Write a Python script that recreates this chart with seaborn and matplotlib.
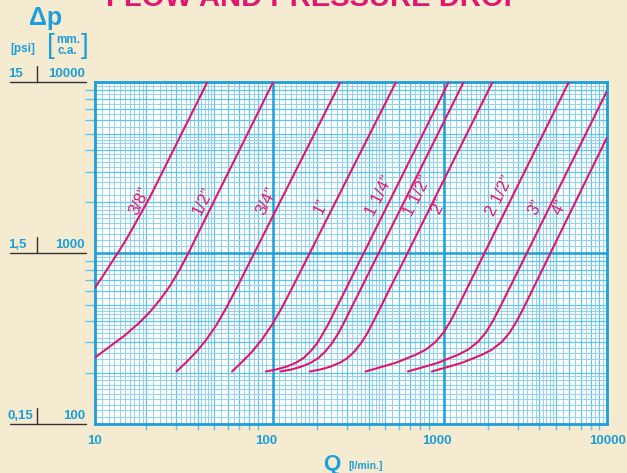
import numpy as np
import pandas as pd
import seaborn as sns
import matplotlib.pyplot as plt

# Flow (l/min) vs pressure drop (mm c.a.) for each pipe size
sizes = ['3/8\u201d', '1/2\u201d', '3/4\u201d', '1\u201d', '1 1/4\u201d',
         '1 1/2\u201d', '2\u201d', '2 1/2\u201d', '3\u201d', '4\u201d']

q_38 = [10, 11.0, 12.2, 13.6, 15.2, 17.1, 21.0, 45.4]
dp_38 = [629, 722, 849, 1004, 1196, 1474, 2134, 10000]
q_12 = [10, 12.2, 15.0, 18.3, 21.0, 24.0, 27.5, 31.4, 35.9, 41.1, 110.3]
dp_12 = [245, 284, 331, 394, 454, 533, 644, 804, 1039, 1369, 10000]
q_34 = [30.0, 34.4, 39.3, 45.0, 51.5, 58.9, 67.4, 273.5]
dp_34 = [203, 231, 265, 313, 381, 481, 623, 10000]
q_1 = [63.5, 72.7, 83.1, 95.1, 108.8, 124.5, 142.4, 578]
dp_1 = [203, 231, 265, 313, 381, 481, 623, 10000]
q_114 = [100, 114, 131, 150, 167, 183, 199, 215, 234, 253, 275, 1176]
dp_114 = [203, 208, 216, 228, 244, 267, 295, 335, 389, 457, 537, 10000]
q_112 = [122, 140, 160, 183, 204, 224, 243, 264, 286, 310, 336, 1439]
dp_112 = [203, 208, 216, 228, 244, 267, 295, 335, 389, 457, 537, 10000]
q_2 = [181, 207, 237, 271, 302, 332, 359, 390, 422, 458, 496, 2125]
dp_2 = [203, 208, 216, 228, 244, 267, 295, 335, 389, 457, 537, 10000]
q_212 = [384.5, 470.5, 576, 754, 862, 987, 1099, 1208, 1327, 5941]
dp_212 = [203, 215, 228, 254, 272, 302, 343, 400, 479, 10000]
q_3 = [680, 832, 1018, 1332, 1524, 1744, 1943, 2135, 2346, 9909]
dp_3 = [203, 215, 228, 254, 272, 302, 343, 400, 479, 8810]
q_4 = [939, 1148, 1406, 1840, 2105, 2409, 2683, 2948, 3239, 9905]
dp_4 = [203, 215, 228, 254, 272, 302, 343, 400, 479, 4704]

# label anchor points (centre of each rotated label)
label_q = [18.3, 42.8, 101, 210, 464, 774, 1027, 2335, 3793, 5309]
label_dp = [2022, 2022, 2022, 1878, 2163, 2163, 1878, 2163, 1865, 1850]

y_left_psi = ['15', '1,5', '0,15']
y_left_mm = ['10000', '1000', '100']
y_levels = [10000, 1000, 100]
x_ticks = [10, 100, 1000, 10000]

all_q = [q_38, q_12, q_34, q_1, q_114, q_112, q_2, q_212, q_3, q_4]
all_dp = [dp_38, dp_12, dp_34, dp_1, dp_114, dp_112, dp_2, dp_212, dp_3, dp_4]
frames = []
for s, q, dp in zip(sizes, all_q, all_dp):
    frames.append(pd.DataFrame({'size': s, 'Q': q, 'dp': dp}))
df = pd.concat(frames, ignore_index=True)

bg = '#F5EBD1'
blue = '#1C9FDB'
grid_light = '#8DD3F2'
grid_mid = '#62C4EE'
magenta = '#E0166F'

sns.set_theme(style='white')
plt.rcParams['font.family'] = ['Liberation Sans', 'DejaVu Sans']

fig = plt.figure(figsize=(6.27, 4.73), dpi=100, facecolor=bg)
ax = fig.add_axes([95 / 627, 1 - 424 / 473, (607.3 - 95) / 627, (424 - 82.3) / 473])
ax.set_facecolor('white')
ax.set_xscale('log')
ax.set_yscale('log')
ax.set_xlim(10, 10000)
ax.set_ylim(100, 10000)

# log paper grid
fine = np.concatenate([np.arange(1, 2, 0.1), np.arange(2, 5, 0.2), np.arange(5, 10, 0.5)])
whole = np.arange(2, 10)
for dec in [10, 100, 1000]:
    ax.vlines(fine * dec, 100, 10000, color=grid_light, lw=0.7, zorder=0)
    ax.vlines(whole * dec, 100, 10000, color=grid_mid, lw=0.9, zorder=0)
for dec in [100, 1000]:
    ax.hlines(fine * dec, 10, 10000, color=grid_light, lw=0.7, zorder=0)
    ax.hlines(whole * dec, 10, 10000, color=grid_mid, lw=0.9, zorder=0)
ax.axhline(1000, color=blue, lw=1.8, zorder=1)
ax.axvline(110, color=blue, lw=1.8, zorder=1)
ax.axvline(1100, color=blue, lw=1.8, zorder=1)

sns.lineplot(data=df, x='Q', y='dp', hue='size', palette=[magenta] * len(sizes),
             estimator=None, sort=False, legend=False, lw=1.5, ax=ax, zorder=3)

for s, lq, ld in zip(sizes, label_q, label_dp):
    ax.text(lq, ld, s, color=magenta, fontsize=12, rotation=63.4,
            ha='center', va='center', zorder=4)

for sp in ax.spines.values():
    sp.set_color(blue)
    sp.set_linewidth(2)

ax.set_xticks(x_ticks)
ax.set_xticklabels(x_ticks, color=blue, fontsize=9.5, fontweight='bold')
ax.set_yticks([])
ax.set_xticks(np.concatenate([whole * 10, whole * 100, whole * 1000]), minor=True)
ax.set_yticks(np.concatenate([whole * 100, whole * 1000]), minor=True)
ax.tick_params(axis='x', which='major', length=0, pad=8)
ax.tick_params(axis='x', which='minor', length=4, color=grid_mid, width=1, bottom=True)
ax.tick_params(axis='y', which='minor', length=7, color=grid_mid, width=1, left=True)
ax.set_xlabel('')
ax.set_ylabel('')
ax.set_yticklabels([], minor=True)
ax.set_xticklabels([], minor=True)

# left-hand scale (psi | mm c.a.)
for psi, mm, yv in zip(y_left_psi, y_left_mm, y_levels):
    yf = ax.transData.transform((10, yv))[1] / fig.bbox.height
    fig.text(8 / 627, yf + 2 / 473, psi, color=blue, fontsize=9.5, fontweight='bold',
             ha='left', va='bottom')
    fig.text(85 / 627, yf + 2 / 473, mm, color=blue, fontsize=9.5, fontweight='bold',
             ha='right', va='bottom')
    fig.add_artist(plt.Line2D([10 / 627, 86 / 627], [yf, yf], color='#333333', lw=1))
    fig.add_artist(plt.Line2D([37 / 627, 37 / 627], [yf, yf + 16 / 473], color='#333333', lw=1))

fig.text(46 / 627, 1 - 18 / 473, '\u0394p', color=blue, fontsize=18, fontweight='bold',
         ha='center', va='center')
fig.text(23 / 627, 1 - 49 / 473, '[psi]', color=blue, fontsize=8.5, fontweight='bold',
         ha='center', va='center')
fig.text(51 / 627, 1 - 46 / 473, '[', color=blue, fontsize=20, ha='center', va='center')
fig.text(85 / 627, 1 - 46 / 473, ']', color=blue, fontsize=20, ha='center', va='center')
fig.text(68 / 627, 1 - 40 / 473, 'mm.', color=blue, fontsize=8.5, fontweight='bold',
         ha='center', va='center')
fig.text(67 / 627, 1 - 51 / 473, 'c.a.', color=blue, fontsize=8.5, fontweight='bold',
         ha='center', va='center')

fig.text(332 / 627, 1 - 464 / 473, 'Q', color=blue, fontsize=16, fontweight='bold',
         ha='center', va='center')
fig.text(366 / 627, 1 - 466 / 473, '[l/min.]', color=blue, fontsize=7.5, fontweight='bold',
         ha='center', va='center')

fig.text(314 / 627, 1 - 6 / 473, 'FLOW AND PRESSURE DROP', color=magenta, fontsize=21,
         fontweight='bold', ha='center', va='baseline')

fig.savefig('out.png', dpi=100, facecolor=bg)
